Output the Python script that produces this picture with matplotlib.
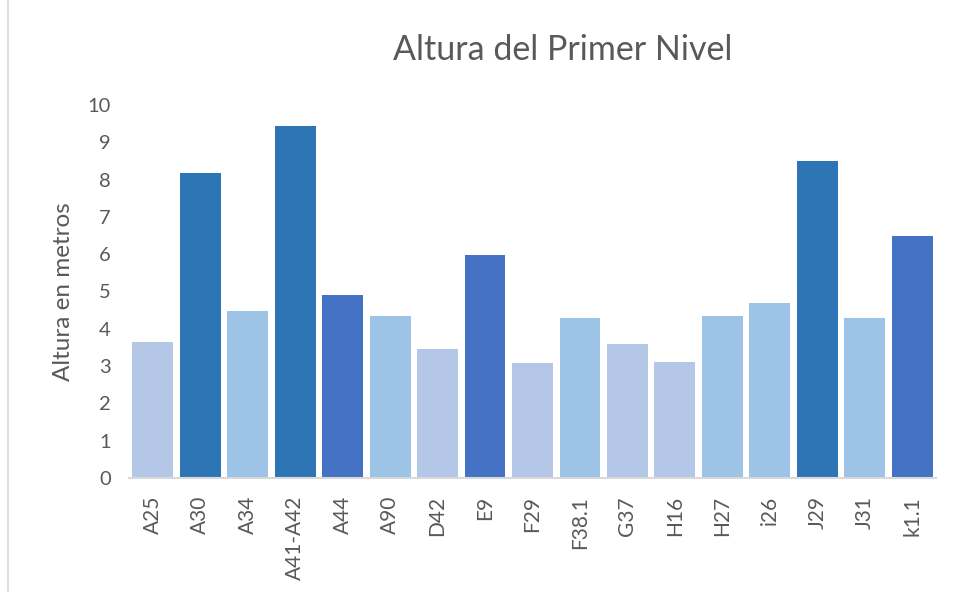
import matplotlib
matplotlib.use("Agg")
import matplotlib.pyplot as plt
from matplotlib.lines import Line2D

categories = ["A25", "A30", "A34", "A41-A42", "A44", "A90", "D42", "E9", "F29",
              "F38.1", "G37", "H16", "H27", "i26", "J29", "J31", "k1.1"]
values = [3.65, 8.17, 4.48, 9.45, 4.9, 4.35, 3.47, 5.99, 3.08,
          4.3, 3.6, 3.12, 4.35, 4.7, 8.49, 4.3, 6.48]
colors = ["#B4C7E7", "#2E75B6", "#9DC3E6", "#2E75B6", "#4472C4", "#9DC3E6", "#B4C7E7",
          "#4472C4", "#B4C7E7", "#9DC3E6", "#B4C7E7", "#B4C7E7", "#9DC3E6", "#9DC3E6",
          "#2E75B6", "#9DC3E6", "#4472C4"]
yticks = list(range(0, 11))

plt.rcParams['font.family'] = ['Lato', 'DejaVu Sans']
grey = "#595959"

fig = plt.figure(figsize=(9.54, 5.92), dpi=100)
ax = fig.add_axes([129/954, 1-478/592, (936-129)/954, (478-105)/592])

x = list(range(len(categories)))
ax.bar(x, values, width=0.86, color=colors)
ax.set_xlim(-0.5, len(categories)-0.5)
ax.set_ylim(0, 10)
ax.set_yticks(yticks)
ax.set_xticks(x)
ax.set_xticklabels(categories, rotation=90, fontsize=15, color=grey)
ax.tick_params(axis='y', labelsize=14.5, labelcolor=grey, length=0, pad=13)
ax.tick_params(axis='x', length=0, pad=13)
for s in ["top", "right", "left"]:
    ax.spines[s].set_visible(False)
ax.spines["bottom"].set_color("#D9D9D9")
ax.spines["bottom"].set_linewidth(1.5)

ax.set_ylabel("Altura en metros", fontsize=17.5, color=grey, labelpad=10)
fig.text(563/954, 1-50/592, "Altura del Primer Nivel", ha="center", va="center",
         fontsize=24.5, color=grey)

fig.add_artist(Line2D([8/954, 8/954], [0, 1], color="#D9D9D9", lw=1.2,
                      transform=fig.transFigure))

fig.savefig("out.png", dpi=100)
